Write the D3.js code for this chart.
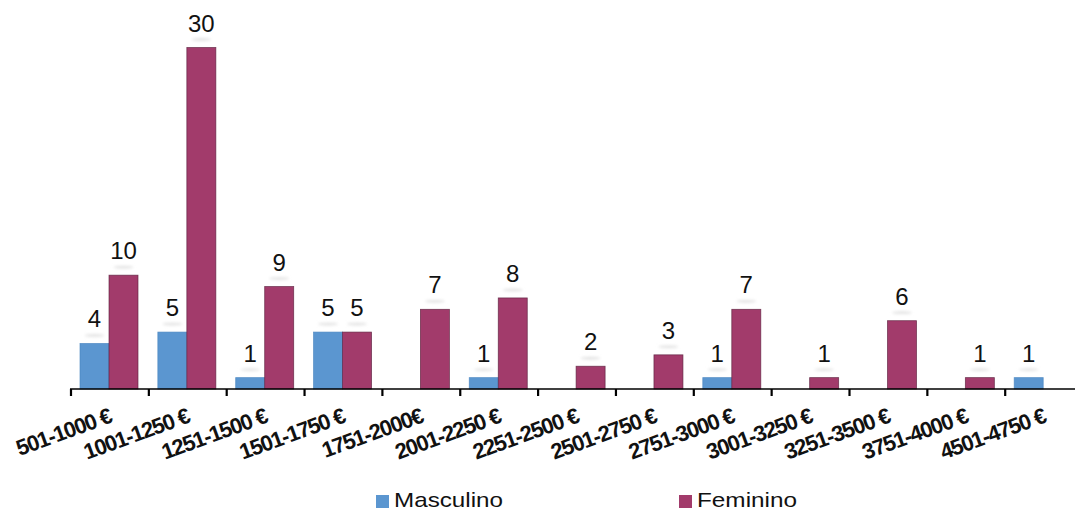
<!DOCTYPE html>
<html>
<head>
<meta charset="utf-8">
<script src="https://cdn.jsdelivr.net/npm/d3@7"></script>
<style>
  html, body { margin: 0; padding: 0; background: #ffffff; }
  svg { display: block; font-family: "Liberation Sans", Arial, sans-serif; }
</style>
</head>
<body>
<svg id="chart" width="1075" height="512"></svg>
<script>
// Salary bands and head counts by gender
const categories = ["501-1000 €", "1001-1250 €", "1251-1500 €", "1501-1750 €", "1751-2000€",
  "2001-2250 €", "2251-2500 €", "2501-2750 €", "2751-3000 €", "3001-3250 €",
  "3251-3500 €", "3751-4000 €", "4501-4750 €"];
const seriesNames = ["Masculino", "Feminino"];
const masculino = [4, 5, 1, 5, 0, 1, 0, 0, 1, 0, 0, 0, 1];
const feminino  = [10, 30, 9, 5, 7, 8, 2, 3, 7, 1, 6, 1, 0];
const seriesColors = ["#5b96d0", "#a23b6b"];
const seriesStroke = ["#4a86c0", "#5e2240"];
const legendWidths = [109, 100];

const svg = d3.select("#chart");

// blur used for the soft shadow beneath each value label
const defs = svg.append("defs");
defs.append("filter").attr("id", "soft").attr("x", "-50%").attr("y", "-200%")
  .attr("width", "200%").attr("height", "500%")
  .append("feGaussianBlur").attr("stdDeviation", 1.8);

const bandW = 77.85;
const x0 = d3.scaleBand().domain(categories)
  .range([71, 71 + bandW * categories.length]).paddingInner(0).paddingOuter(0);
const x1 = d3.scaleBand().domain(seriesNames).range([9, 67]).padding(0);
const y = d3.scaleLinear().domain([0, 30]).range([389, 47.5]);

const rows = categories.map((c, i) => ({
  cat: c,
  vals: [
    { s: seriesNames[0], v: masculino[i], k: 0 },
    { s: seriesNames[1], v: feminino[i], k: 1 }
  ]
}));

const groups = svg.append("g").selectAll("g").data(rows).join("g")
  .attr("transform", d => `translate(${x0(d.cat)},0)`);

const bars = groups.selectAll("g.bar").data(d => d.vals.filter(e => e.v > 0)).join("g").attr("class", "bar");

bars.append("rect")
  .attr("x", d => x1(d.s))
  .attr("y", d => y(d.v))
  .attr("width", x1.bandwidth())
  .attr("height", d => y(0) - y(d.v))
  .attr("fill", d => seriesColors[d.k])
  .attr("stroke", d => seriesStroke[d.k])
  .attr("stroke-width", 0.8)
  .attr("stroke-opacity", 0.8);

// faint label-box shadow
bars.append("ellipse")
  .attr("cx", d => x1(d.s) + x1.bandwidth() / 2)
  .attr("cy", d => y(d.v) - 8)
  .attr("rx", 10).attr("ry", 1.4)
  .attr("fill", "#e2e2e2")
  .attr("filter", "url(#soft)");

bars.append("text")
  .attr("x", d => x1(d.s) + x1.bandwidth() / 2)
  .attr("y", d => y(d.v) - 16)
  .attr("text-anchor", "middle")
  .attr("font-size", 24)
  .attr("fill", "#111")
  .text(d => d.v);

// category axis along the baseline
const axisG = svg.append("g").attr("transform", `translate(0,${y(0)})`);
axisG.append("line")
  .attr("x1", 70).attr("x2", 1075)
  .attr("y1", 0).attr("y2", 0)
  .attr("stroke", "#000").attr("stroke-width", 1.6);

const tickPos = categories.map(c => x0(c));
axisG.selectAll("line.tick").data(tickPos).join("line")
  .attr("class", "tick")
  .attr("x1", d => d).attr("x2", d => d)
  .attr("y1", 0).attr("y2", 7)
  .attr("stroke", "#000").attr("stroke-width", 2.2);

svg.append("g").selectAll("text").data(categories).join("text")
  .attr("transform", d => `translate(${x0(d) + bandW / 2 + 3},422) rotate(-20)`)
  .attr("text-anchor", "end")
  .attr("font-size", 22)
  .attr("font-weight", "bold")
  .attr("letter-spacing", -1.2)
  .attr("fill", "#111")
  .text(d => d);

// legend
const legendX = [376, 679];
const leg = svg.append("g").selectAll("g").data(seriesNames).join("g")
  .attr("transform", (d, i) => `translate(${legendX[i]},0)`);
leg.append("rect")
  .attr("x", 0).attr("y", 495).attr("width", 13).attr("height", 13)
  .attr("fill", (d, i) => seriesColors[i]);
leg.append("text")
  .attr("x", 18).attr("y", 507)
  .attr("font-size", 21)
  .attr("textLength", (d, i) => legendWidths[i])
  .attr("lengthAdjust", "spacingAndGlyphs")
  .attr("fill", "#111")
  .text(d => d);
</script>
</body>
</html>
